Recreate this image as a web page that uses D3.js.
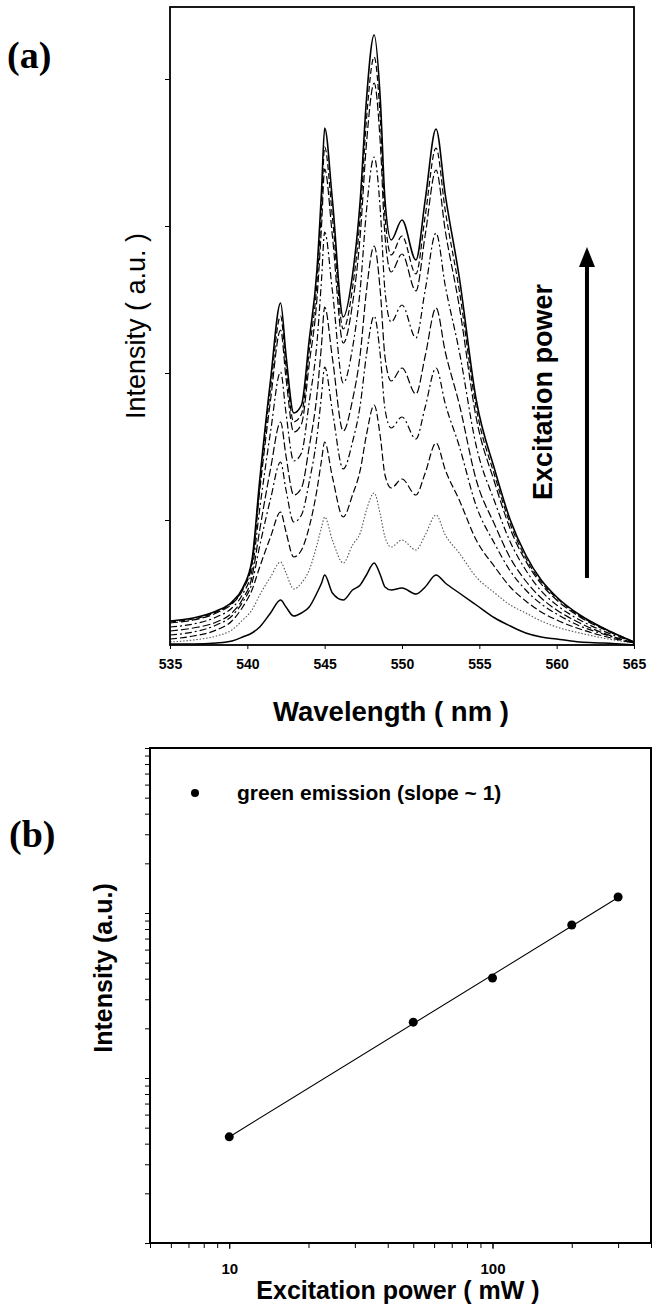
<!DOCTYPE html>
<html>
<head>
<meta charset="utf-8">
<script src="https://cdn.jsdelivr.net/npm/d3@7"></script>
<style>
  html, body { margin: 0; padding: 0; background: #fff; }
  svg { display: block; }
  text { fill: #000; }
</style>
</head>
<body>
<svg id="chart" width="657" height="1311"></svg>
<script>
// ---------------- Panel (a) data: emission spectra ----------------
const wavelengths = [535, 536.5, 538, 539, 539.7, 540.3, 540.8, 541.5, 542.15, 542.5,
  543, 543.5, 544, 544.5, 544.8, 545, 545.5, 546.2, 546.8, 547.3,
  547.7, 548.2, 548.6, 548.9, 549.3, 550, 550.9, 551.5, 552.2, 552.8,
  553.7, 554.8, 556, 557, 558, 559, 560, 561.5, 563, 565];

// intensities (a.u.), lowest excitation power first
const spec1 = [1, 1, 2, 4, 8, 12, 18, 32, 45, 38, 29, 32, 38, 52, 62, 70, 52, 45, 55, 60,
  70, 82, 70, 58, 55, 57, 51, 58, 70, 62, 52, 40, 27, 19, 12, 8, 6, 3, 2, 0];
const spec2 = [3, 5, 9, 15, 25, 35, 50, 68, 83, 72, 56, 62, 75, 100, 118, 128, 105, 82, 100, 112,
  135, 152, 130, 108, 98, 105, 95, 110, 130, 110, 92, 68, 52, 40, 32, 24, 18, 12, 7, 2];
const spec3 = [6, 9, 15, 24, 38, 55, 78, 108, 133, 113, 88, 95, 118, 155, 185, 203, 168, 128, 150, 175,
  210, 240, 208, 170, 157, 166, 150, 172, 202, 175, 145, 105, 78, 58, 44, 33, 25, 16, 9, 2];
const spec4 = [10, 13, 20, 29, 43, 62, 99, 146, 183, 155, 123, 130, 163, 208, 250, 278, 234, 176, 203, 240,
  290, 329, 289, 236, 217, 228, 206, 238, 277, 241, 199, 139, 101, 74, 55, 41, 31, 19, 11, 2];
const spec5 = [14, 17, 23, 32, 46, 68, 115, 176, 223, 189, 150, 157, 198, 250, 301, 338, 287, 214, 245, 291,
  354, 399, 353, 288, 264, 277, 251, 289, 337, 293, 241, 165, 120, 87, 64, 47, 35, 22, 12, 2];
const spec6 = [18, 21, 28, 37, 51, 75, 136, 213, 273, 232, 184, 192, 243, 302, 366, 413, 354, 262, 297, 356,
  434, 488, 434, 354, 323, 340, 307, 355, 412, 359, 294, 199, 143, 103, 75, 54, 40, 25, 14, 3];
const spec7 = [22, 25, 32, 41, 55, 81, 154, 245, 315, 267, 213, 221, 281, 346, 420, 476, 409, 302, 341, 410,
  501, 562, 501, 409, 373, 391, 354, 410, 475, 414, 339, 227, 162, 116, 84, 61, 45, 28, 16, 3];
const spec8 = [23, 26, 33, 42, 56, 83, 160, 256, 329, 279, 223, 231, 294, 362, 439, 498, 428, 316, 357, 429,
  525, 588, 525, 429, 390, 409, 371, 429, 497, 434, 355, 237, 169, 121, 87, 63, 47, 29, 17, 3];
const spec9 = [24, 27, 34, 43, 57, 85, 165, 265, 342, 290, 232, 240, 305, 375, 455, 517, 445, 328, 370, 445,
  545, 610, 545, 445, 405, 425, 385, 445, 516, 450, 368, 245, 175, 125, 90, 65, 48, 30, 17, 3];

const spectra = [spec1, spec2, spec3, spec4, spec5, spec6, spec7, spec8, spec9];
const specDash = ["", "1.5,1.8", "7,3", "7,3,2,3", "8,3", "7,3,2,3", "8,3", "6,3", ""];
const specWidth = [1.5, 1.1, 1.2, 1.2, 1.2, 1.2, 1.2, 1.2, 1.6];
const specColor = ["#000", "#555", "#000", "#000", "#000", "#000", "#000", "#000", "#000"];

const xTicksA = [535, 540, 545, 550, 555, 560, 565];
const yTicksA = [125, 272, 419, 566];

// ---------------- Panel (b) data: power dependence ----------------
const power = [10, 50, 100, 200, 300];
const greenIntensity = [4.4, 21.8, 40.4, 84.6, 125];
const xTickLabelsB = [10, 100];

const svg = d3.select("#chart");
const sans = "'Liberation Sans', Arial, Helvetica, sans-serif";
const serif = "'Liberation Serif', 'Times New Roman', serif";

// ================= Panel (a) =================
const A = { left: 170, right: 634, top: 7, bottom: 645 };
const xA = d3.scaleLinear().domain([535, 565]).range([A.left, A.right]);
const yA = d3.scaleLinear().domain([0, 638]).range([A.bottom, A.top]);

const gA = svg.append("g");

const line = d3.line()
  .x((d, i) => xA(wavelengths[i]))
  .y(d => yA(d))
  .curve(d3.curveMonotoneX);

spectra.forEach((s, k) => {
  gA.append("path")
    .datum(s)
    .attr("d", line)
    .attr("fill", "none")
    .attr("stroke", specColor[k])
    .attr("stroke-width", specWidth[k])
    .attr("stroke-dasharray", specDash[k] || null);
});

// frame
gA.append("rect")
  .attr("x", A.left).attr("y", A.top)
  .attr("width", A.right - A.left).attr("height", A.bottom - A.top)
  .attr("fill", "none").attr("stroke", "#000").attr("stroke-width", 1.8);

const axA_x = gA.append("g")
  .attr("transform", `translate(0,${A.bottom})`)
  .call(d3.axisBottom(xA).tickValues(xTicksA).tickSize(4).tickPadding(10).tickFormat(d3.format("d")));
axA_x.select(".domain").remove();
axA_x.selectAll("text").attr("font-family", sans).attr("font-size", 14).attr("font-weight", "bold");

const axA_y = gA.append("g")
  .attr("transform", `translate(${A.left},0)`)
  .call(d3.axisLeft(yA).tickValues(yTicksA).tickSize(5).tickFormat(""));
axA_y.select(".domain").remove();

// labels
gA.append("text")
  .attr("x", 391).attr("y", 721)
  .attr("text-anchor", "middle")
  .attr("font-family", sans).attr("font-size", 27.5).attr("font-weight", "bold")
  .text("Wavelength ( nm )");

gA.append("text")
  .attr("transform", `translate(145,${(A.top + A.bottom) / 2}) rotate(-90)`)
  .attr("text-anchor", "middle")
  .attr("font-family", sans).attr("font-size", 27)
  .text("Intensity ( a.u. )");

gA.append("text")
  .attr("transform", `translate(552,392) rotate(-90)`)
  .attr("text-anchor", "middle")
  .attr("font-family", sans).attr("font-size", 27).attr("font-weight", "bold")
  .text("Excitation power");

// arrow (annotation)
const arrowX = xA(561.96);
const arrowBottom = yA(67);
const arrowTip = yA(398);
gA.append("line")
  .attr("x1", arrowX).attr("x2", arrowX)
  .attr("y1", arrowBottom).attr("y2", arrowTip + 18)
  .attr("stroke", "#000").attr("stroke-width", 4);
gA.append("path")
  .attr("d", `M${arrowX},${arrowTip} L${arrowX - 8},${arrowTip + 20} L${arrowX + 8},${arrowTip + 20} Z`)
  .attr("fill", "#000");

svg.append("text")
  .attr("x", 7).attr("y", 68)
  .attr("font-family", serif).attr("font-size", 38).attr("font-weight", "bold")
  .text("(a)");

// ================= Panel (b) =================
const B = { left: 150, right: 651, top: 748, bottom: 1243 };
const xB = d3.scaleLog().domain([5, 400]).range([B.left, B.right]);
const yB = d3.scaleLog().domain([1, 1000]).range([B.bottom, B.top]);

const gB = svg.append("g");

gB.append("rect")
  .attr("x", B.left).attr("y", B.top)
  .attr("width", B.right - B.left).attr("height", B.bottom - B.top)
  .attr("fill", "none").attr("stroke", "#000").attr("stroke-width", 2);

// x ticks (log)
const xMinorB = [];
[1, 10, 100].forEach(dec => { for (let m = 1; m <= 9; m++) { const v = m * dec; if (v >= 5 && v <= 400) xMinorB.push(v); } });
const axB_xMinor = gB.append("g").attr("transform", `translate(0,${B.bottom})`)
  .call(d3.axisBottom(xB).tickValues(xMinorB).tickSize(5).tickFormat(""));
axB_xMinor.select(".domain").remove();
const axB_x = gB.append("g").attr("transform", `translate(0,${B.bottom})`)
  .call(d3.axisBottom(xB).tickValues(xTickLabelsB).tickSize(6).tickPadding(14).tickFormat(d3.format("d")));
axB_x.select(".domain").remove();
axB_x.selectAll("text").attr("font-family", sans).attr("font-size", 15).attr("font-weight", "bold");

// y ticks (log)
const yMinorB = [];
[1, 10, 100].forEach(dec => { for (let m = 1; m <= 9; m++) yMinorB.push(m * dec); });
yMinorB.push(1000);
const axB_yMinor = gB.append("g").attr("transform", `translate(${B.left},0)`)
  .call(d3.axisLeft(yB).tickValues(yMinorB).tickSize(5).tickFormat(""));
axB_yMinor.select(".domain").remove();

// fitted line (least squares in log-log)
const lx = power.map(Math.log10), ly = greenIntensity.map(Math.log10);
const mx = d3.mean(lx), my = d3.mean(ly);
const slope = d3.sum(lx.map((v, i) => (v - mx) * (ly[i] - my))) / d3.sum(lx.map(v => (v - mx) ** 2));
const icpt = my - slope * mx;
const fitX = d3.extent(power);
gB.append("path")
  .datum(fitX.map(p => [p, Math.pow(10, icpt + slope * Math.log10(p))]))
  .attr("d", d3.line().x(d => xB(d[0])).y(d => yB(d[1])))
  .attr("fill", "none").attr("stroke", "#000").attr("stroke-width", 1.1);

gB.selectAll("circle.pt")
  .data(power)
  .join("circle")
  .attr("class", "pt")
  .attr("cx", d => xB(d))
  .attr("cy", (d, i) => yB(greenIntensity[i]))
  .attr("r", 4.5)
  .attr("fill", "#000");

// legend
gB.append("circle").attr("cx", 195).attr("cy", 793).attr("r", 4).attr("fill", "#000");
gB.append("text")
  .attr("x", 237).attr("y", 800)
  .attr("font-family", sans).attr("font-size", 21).attr("font-weight", "bold")
  .text("green emission (slope ~ 1)");

gB.append("text")
  .attr("x", 398).attr("y", 1299)
  .attr("text-anchor", "middle")
  .attr("font-family", sans).attr("font-size", 25).attr("font-weight", "bold")
  .text("Excitation power ( mW )");

gB.append("text")
  .attr("transform", `translate(112,968) rotate(-90)`)
  .attr("text-anchor", "middle")
  .attr("font-family", sans).attr("font-size", 25).attr("font-weight", "bold")
  .text("Intensity (a.u.)");

svg.append("text")
  .attr("x", 9).attr("y", 847)
  .attr("font-family", serif).attr("font-size", 38).attr("font-weight", "bold")
  .text("(b)");
</script>
</body>
</html>
